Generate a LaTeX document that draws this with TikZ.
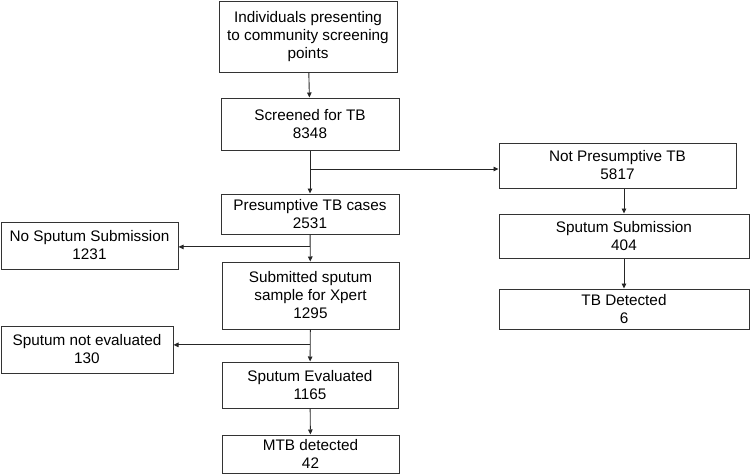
\documentclass[tikz,border=0pt]{standalone}
\usepackage{fontspec}
\setmainfont{Liberation Sans}
\usetikzlibrary{arrows.meta,calc}
\begin{document}
\begin{tikzpicture}[x=1pt,y=-1pt,
  box/.style={draw=black!80, line width=1pt, align=center, inner sep=0pt,
    font=\fontsize{15.3}{18}\selectfont, text=black},
  arr/.style={draw=black!85, line width=0.9pt, -{Triangle[length=5pt,width=4.5pt]}}]
\useasboundingbox (0,0) rectangle (750,474);
% boxes: center x, center y, width, height
\node[box, minimum width=178, minimum height=71] (b1) at (308,36.5) {Individuals presenting\\to community screening\\points};
\node[box, minimum width=178, minimum height=52] (b2) at (310,124) {Screened for TB\\8348};
\node[box, minimum width=178, minimum height=40] (b3) at (310,214) {Presumptive TB cases\\2531};
\node[box, minimum width=177, minimum height=47] (b4) at (89.5,245.5) {No Sputum Submission\\1231};
\node[box, minimum width=177, minimum height=67] (b5) at (310.5,295.5) {Submitted sputum\\sample for Xpert\\1295};
\node[box, minimum width=172, minimum height=47] (b6) at (87,349.5) {Sputum not evaluated\\130};
\node[box, minimum width=176, minimum height=46] (b7) at (310,385) {Sputum Evaluated\\1165};
\node[box, minimum width=177, minimum height=38] (b8) at (310.5,454) {MTB detected\\42};
\node[box, minimum width=237, minimum height=45] (b9) at (617.5,165.5) {Not Presumptive TB\\5817};
\node[box, minimum width=250, minimum height=44] (b10) at (624,236) {Sputum Submission\\404};
\node[box, minimum width=250, minimum height=40] (b11) at (624,309) {TB Detected\\6};
% connectors
\draw[arr] (b1) -- (b2);
\draw[arr] (b2) -- (b3);
\coordinate (j1) at ($(b2.south)!0.43!(b3.north)$);
\draw[arr] (j1) -- (j1 -| b9.west);
\draw[arr] (b3) -- (b5);
\coordinate (j2) at ($(b3.south)!0.46!(b5.north)$);
\draw[arr] (j2) -- (j2 -| b4.east);
\draw[arr] (b5) -- (b7);
\coordinate (j3) at ($(b5.south)!0.48!(b7.north)$);
\draw[arr] (j3) -- (j3 -| b6.east);
\draw[arr] (b7) -- (b8);
\draw[arr] (b9.south -| b10.north) -- (b10.north);
\draw[arr] (b10) -- (b11);
\end{tikzpicture}
\end{document}
